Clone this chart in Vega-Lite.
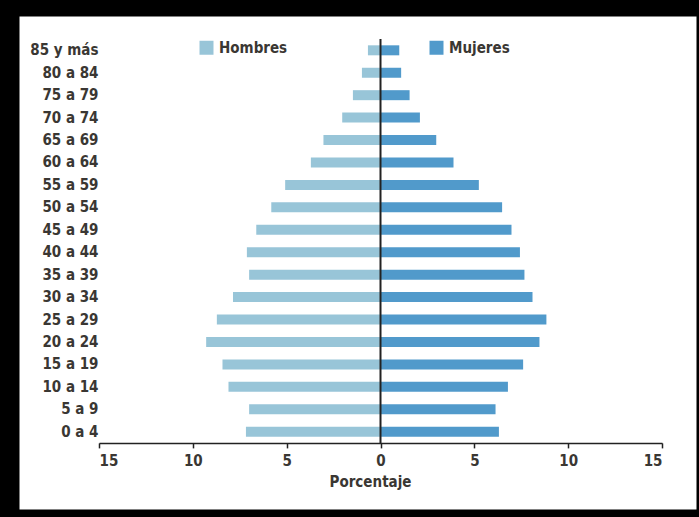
{
  "$schema": "https://vega.github.io/schema/vega-lite/v6.json",
  "autosize": "none",
  "width": 674,
  "height": 490,
  "padding": {"left": 21, "top": 18, "right": 4, "bottom": 9},
  "background": "#000000",
  "config": {
    "view": {"fill": "#ffffff", "stroke": "#ffffff", "strokeWidth": 3},
    "font": "DejaVu Sans Condensed, sans-serif"
  },
  "layer": [
    {
      "data": {
        "values": [
          {"grupo": "85 y más", "sexo": "Hombres", "pct": -0.67},
          {"grupo": "80 a 84", "sexo": "Hombres", "pct": -0.99},
          {"grupo": "75 a 79", "sexo": "Hombres", "pct": -1.47},
          {"grupo": "70 a 74", "sexo": "Hombres", "pct": -2.04},
          {"grupo": "65 a 69", "sexo": "Hombres", "pct": -3.04},
          {"grupo": "60 a 64", "sexo": "Hombres", "pct": -3.71},
          {"grupo": "55 a 59", "sexo": "Hombres", "pct": -5.08},
          {"grupo": "50 a 54", "sexo": "Hombres", "pct": -5.82},
          {"grupo": "45 a 49", "sexo": "Hombres", "pct": -6.62},
          {"grupo": "40 a 44", "sexo": "Hombres", "pct": -7.12},
          {"grupo": "35 a 39", "sexo": "Hombres", "pct": -7.0},
          {"grupo": "30 a 34", "sexo": "Hombres", "pct": -7.86},
          {"grupo": "25 a 29", "sexo": "Hombres", "pct": -8.72},
          {"grupo": "20 a 24", "sexo": "Hombres", "pct": -9.29},
          {"grupo": "15 a 19", "sexo": "Hombres", "pct": -8.42},
          {"grupo": "10 a 14", "sexo": "Hombres", "pct": -8.1},
          {"grupo": "5 a 9", "sexo": "Hombres", "pct": -7.0},
          {"grupo": "0 a 4", "sexo": "Hombres", "pct": -7.17},
          {"grupo": "85 y más", "sexo": "Mujeres", "pct": 1.0},
          {"grupo": "80 a 84", "sexo": "Mujeres", "pct": 1.1},
          {"grupo": "75 a 79", "sexo": "Mujeres", "pct": 1.55},
          {"grupo": "70 a 74", "sexo": "Mujeres", "pct": 2.1},
          {"grupo": "65 a 69", "sexo": "Mujeres", "pct": 2.97},
          {"grupo": "60 a 64", "sexo": "Mujeres", "pct": 3.89},
          {"grupo": "55 a 59", "sexo": "Mujeres", "pct": 5.24},
          {"grupo": "50 a 54", "sexo": "Mujeres", "pct": 6.48},
          {"grupo": "45 a 49", "sexo": "Mujeres", "pct": 6.98},
          {"grupo": "40 a 44", "sexo": "Mujeres", "pct": 7.43},
          {"grupo": "35 a 39", "sexo": "Mujeres", "pct": 7.67},
          {"grupo": "30 a 34", "sexo": "Mujeres", "pct": 8.1},
          {"grupo": "25 a 29", "sexo": "Mujeres", "pct": 8.84},
          {"grupo": "20 a 24", "sexo": "Mujeres", "pct": 8.47},
          {"grupo": "15 a 19", "sexo": "Mujeres", "pct": 7.6},
          {"grupo": "10 a 14", "sexo": "Mujeres", "pct": 6.79},
          {"grupo": "5 a 9", "sexo": "Mujeres", "pct": 6.13},
          {"grupo": "0 a 4", "sexo": "Mujeres", "pct": 6.31}
        ]
      },
      "mark": {"type": "bar", "size": 10},
      "encoding": {
        "y": {
          "field": "grupo",
          "type": "nominal",
          "sort": ["85 y más", "80 a 84", "75 a 79", "70 a 74", "65 a 69", "60 a 64", "55 a 59", "50 a 54", "45 a 49", "40 a 44", "35 a 39", "30 a 34", "25 a 29", "20 a 24", "15 a 19", "10 a 14", "5 a 9", "0 a 4"],
          "scale": {"range": [21.1, 424.9], "paddingInner": 0, "paddingOuter": 0},
          "axis": {
            "title": null,
            "domain": false,
            "ticks": false,
            "tickSize": 0,
            "grid": false,
            "labelPadding": 0,
            "offset": -77,
            "labelAlign": "right",
            "labelFontSize": 15,
            "labelFontWeight": "bold",
            "labelColor": "#3a3733"
          }
        },
        "x": {
          "field": "pct",
          "type": "quantitative",
          "scale": {"domain": [-15, 15], "range": [78, 641], "nice": false, "zero": false},
          "axis": {
            "values": [-15, -10, -5, 0, 5, 10, 15],
            "labelExpr": "format(abs(datum.value), 'd')",
            "title": "Porcentaje",
            "grid": false,
            "offset": -65.1,
            "domainColor": "#222222",
            "domainWidth": 1.5,
            "tickColor": "#222222",
            "tickWidth": 1.5,
            "tickSize": 5,
            "labelPadding": 6,
            "labelFontSize": 15,
            "labelFontWeight": "bold",
            "labelColor": "#3a3733",
            "titleFontSize": 15,
            "titleFontWeight": "bold",
            "titleColor": "#3a3733",
            "titleX": 349,
            "titlePadding": 6
          }
        },
        "color": {
          "field": "sexo",
          "type": "nominal",
          "scale": {"domain": ["Hombres", "Mujeres"], "range": ["#98c5d8", "#519acb"]},
          "legend": {
            "title": null,
            "orient": "none",
            "legendX": 178,
            "legendY": 22,
            "direction": "horizontal",
            "columns": 2,
            "columnPadding": 141,
            "symbolType": "square",
            "symbolSize": 196,
            "symbolStrokeWidth": 0,
            "symbolOpacity": 1,
            "labelOffset": 5,
            "labelFontSize": 15,
            "labelFontWeight": "bold",
            "labelColor": "#3a3733"
          }
        }
      }
    },
    {
      "data": {"values": [{}]},
      "mark": {"type": "rule", "color": "#222222", "strokeWidth": 2},
      "encoding": {
        "x": {"datum": 0, "type": "quantitative"},
        "y": {"datum": 0, "type": "quantitative", "scale": {"domain": [0, 1], "range": [21.1, 424.9]}, "axis": null},
        "y2": {"datum": 1}
      }
    }
  ],
  "resolve": {"scale": {"y": "independent"}}
}
